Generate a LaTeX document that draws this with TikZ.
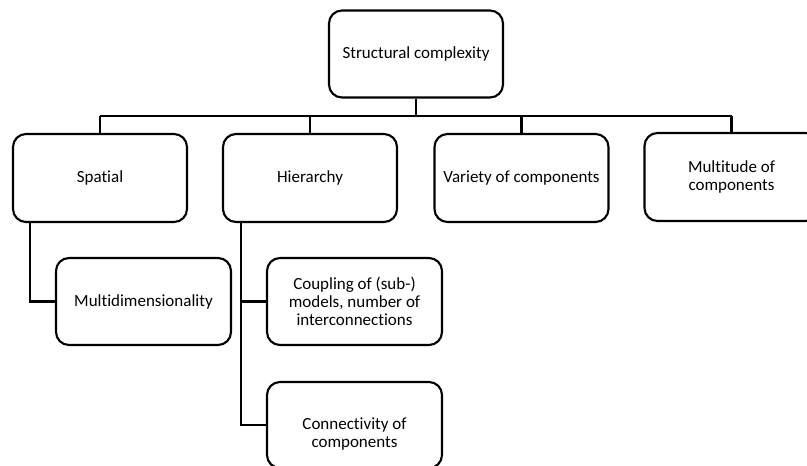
\documentclass[tikz,border=0pt]{standalone}
\usepackage{fontspec}
\setmainfont{Carlito}[Ligatures=NoCommon]
\begin{document}
\begin{tikzpicture}[x=1pt,y=-1pt,
  box/.style={draw,line width=2.1pt,rounded corners=13pt,minimum width=174pt,
    minimum height=87pt,inner sep=0pt,align=center,
    font=\fontsize{17}{18.3}\selectfont},
  lbl/.style={inner sep=0pt,align=center,font=\fontsize{17}{18.3}\selectfont},
  wire/.style={line width=2.1pt}]
\clip (0,0) rectangle (807,466);
\fill[white] (0,0) rectangle (807,466);

% root
\node[box] (top) at (416,54) {Structural complexity};

% first level
\node[box,minimum height=88pt] (spatial) at (100,178) {Spatial};
\node[box,minimum height=88pt] (hier) at (310,178) {Hierarchy};
\node[box,minimum height=88pt] (variety) at (521.5,178) {Variety of components};
\node[box,minimum height=88pt] (multitude) at (731.5,177) {Multitude of\\components};

% second level
\node[box,minimum width=175pt] (multidim) at (143.5,301.5) {Multidimensionality};
\node[box,minimum width=175pt] (coupling) at (354.5,301.5)
  {Coupling of (sub-)\\models, number of\\interconnections};
\node[box,minimum width=175pt,minimum height=86pt] (conn) at (354.5,425) {};
\node[lbl] (connlbl) at (354.5,434) {Connectivity of\\components};

% bus below the root
\coordinate (busL) at (100,116);
\coordinate (busR) at (731.5,116);
\draw[wire] (busL) -- (busR);
\draw[wire] (top.south) -- (top.south |- busL);
\foreach \n in {spatial,hier,variety,multitude}
  \draw[wire] (\n.north) -- (\n.north |- busL);

% branches to the second level
\draw[wire] ([xshift=18pt]spatial.south west) |- (multidim.west);
\draw[wire] ([xshift=19pt]hier.south west) |- (coupling.west);
\draw[wire] ([xshift=19pt]hier.south west) |- (conn.west);
\end{tikzpicture}
\end{document}
